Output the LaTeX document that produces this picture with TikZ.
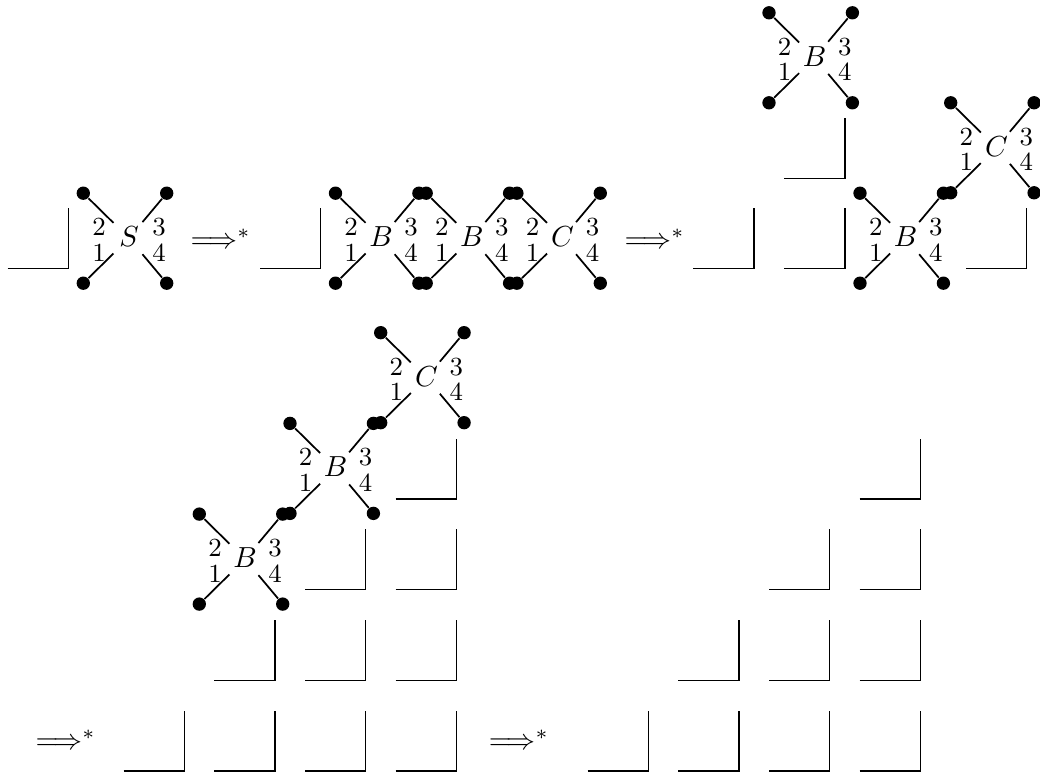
\documentclass[tikz,border=0pt]{standalone}
\usetikzlibrary{calc}
\tikzset{
  wall/.style={line width=0.45pt},
  wire/.style={line width=0.6pt},
  dotn/.style={circle, fill=black, inner sep=0pt, minimum size=4.6pt},
  lett/.style={inner xsep=0pt, inner ysep=1.5pt, minimum width=10.34pt, text height=6.77pt, text depth=0.91pt},
  digit/.style={inner sep=0pt, anchor=base, font=\fontsize{9}{11}\selectfont},
  arr/.style={inner sep=0pt, anchor=base west},
}
\newcommand{\wallL}[2]{\draw[wall] ({#1-60.7},{#2}) -- ({#1},{#2}) -- ({#1},{#2-60.3});}
\newcommand{\gadget}[4]{%
  \node[lett] (#1) at ({#2+4},{#3}) {$#4$};
  \node[dotn] (#1-nw) at ({#2-41.7},{#3-45}) {};
  \node[dotn] (#1-ne) at ({#2+41.7},{#3-45}) {};
  \node[dotn] (#1-sw) at ({#2-41.7},{#3+45}) {};
  \node[dotn] (#1-se) at ({#2+41.7},{#3+45}) {};
  \node[digit] (#1-two) at ({#2-26},{#3-2.5}) {2};
  \node[digit] (#1-one) at ({#2-26},{#3+23}) {1};
  \node[digit] (#1-three) at ({#2+34},{#3-2.5}) {3};
  \node[digit] (#1-four) at ({#2+34},{#3+23}) {4};
  \draw[wire] (#1-nw) -- (#1);
  \draw[wire] (#1-ne) -- (#1);
  \draw[wire] (#1-sw) -- (#1);
  \draw[wire] (#1-se) -- (#1);
}
\begin{document}
\begin{tikzpicture}[x=0.012115cm, y=-0.012115cm]
\useasboundingbox (0,0) rectangle (1040,778);
% first row
\wallL{68.3}{268.7}
\gadget{s}{125}{238.2}{S}
\node[arr] (ar1) at (190,248.8) {$\Longrightarrow^{*}$};
\wallL{320.7}{268.7}
\gadget{ba}{377.2}{238.2}{B}
\gadget{bb}{467.9}{238.2}{B}
\gadget{ca}{558.6}{238.2}{C}
\node[arr] (ar2) at (624,248.8) {$\Longrightarrow^{*}$};
\wallL{754}{268.7}
\wallL{845}{268.7}
\wallL{1026.7}{268.7}
\wallL{845}{178.3}
\gadget{bt}{810.7}{57.8}{B}
\gadget{ct}{992.4}{147.8}{C}
\gadget{bm}{901.7}{238.2}{B}
% bottom left group
\foreach \k in {0,...,3} {\wallL{184.3+90.7*\k}{771}}
\foreach \k in {1,...,3} {\wallL{184.3+90.7*\k}{680.3}}
\foreach \k in {2,3} {\wallL{184.3+90.7*\k}{589.6}}
\wallL{456.4}{498.9}
\gadget{bl}{241}{559.1}{B}
\gadget{bn}{331.7}{468.4}{B}
\gadget{cn}{422.4}{377.7}{C}
\node[arr] (ar3) at (35,749.8) {$\Longrightarrow^{*}$};
\node[arr] (ar4) at (488.3,749.8) {$\Longrightarrow^{*}$};
% bottom right group
\foreach \k in {0,...,3} {\wallL{648.3+90.7*\k}{771}}
\foreach \k in {1,...,3} {\wallL{648.3+90.7*\k}{680.3}}
\foreach \k in {2,3} {\wallL{648.3+90.7*\k}{589.6}}
\wallL{920.4}{498.9}
\end{tikzpicture}
\end{document}
